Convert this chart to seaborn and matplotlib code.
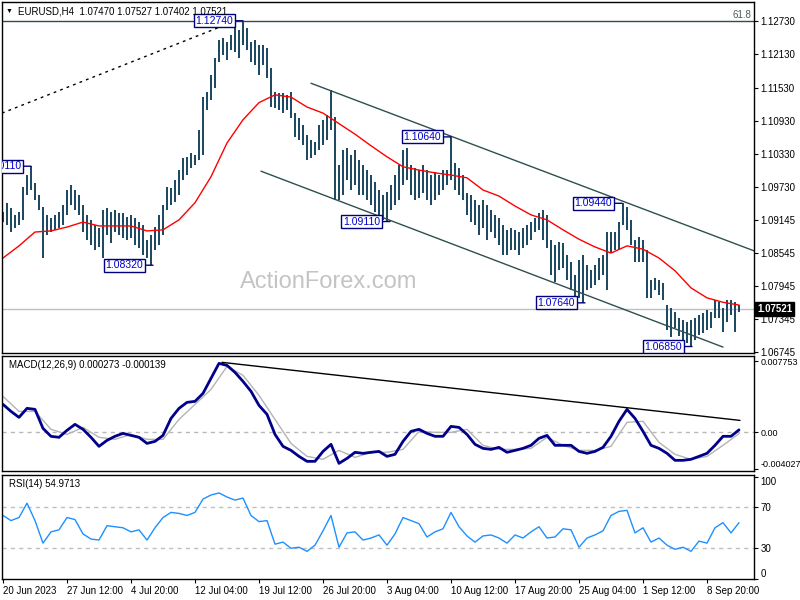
import numpy as np
import matplotlib
matplotlib.use('Agg')
import matplotlib.pyplot as plt
import matplotlib.transforms as mtransforms
import seaborn as sns

# Price bars (one bar per slot)
HIGHS = [
    1.0928, 1.0945, 1.0936, 1.0923, 1.0928, 1.0974, 1.0995, 1.1011, 1.0981, 1.0959,
    1.0937, 1.0923, 1.0917, 1.0923, 1.0928, 1.0941, 1.0968, 1.0977, 1.0968, 1.0959,
    1.0941, 1.0923, 1.0914, 1.0905, 1.0899, 1.0932, 1.0936, 1.0928, 1.0932, 1.0927,
    1.0927, 1.0919, 1.0923, 1.0917, 1.0910, 1.0905, 1.0878, 1.0887, 1.0901, 1.0923,
    1.0941, 1.0974, 1.0972, 1.0986, 1.1004, 1.1026, 1.1028, 1.1035, 1.1032, 1.1077,
    1.1136, 1.1145, 1.1176, 1.1207, 1.1240, 1.1243, 1.1236, 1.1249, 1.1261, 1.1258,
    1.1274, 1.1261, 1.1236, 1.1240, 1.1231, 1.1231, 1.1225, 1.1189, 1.1145, 1.1144,
    1.1144, 1.1140, 1.1145, 1.1107, 1.1098, 1.1086, 1.1068, 1.1059, 1.1055, 1.1086,
    1.1095, 1.1104, 1.1149, 1.1100, 1.1013, 1.1041, 1.1044, 1.1032, 1.1041, 1.1022,
    1.1013, 1.1004, 1.0995, 1.0983, 1.0968, 1.0959, 1.0965, 1.0977, 1.0995, 1.1013,
    1.1041, 1.1044, 1.1013, 1.1008, 1.1004, 1.1013, 1.1004, 1.0995, 1.1001, 1.0995,
    1.1004, 1.1004, 1.1064, 1.1017, 1.1008, 1.0995, 1.0963, 1.0959, 1.0950, 1.0941,
    1.0950, 1.0941, 1.0932, 1.0923, 1.0917, 1.0905, 1.0896, 1.0899, 1.0896, 1.0892,
    1.0899, 1.0905, 1.0910, 1.0917, 1.0927, 1.0932, 1.0923, 1.0878, 1.0869, 1.0874,
    1.0872, 1.0851, 1.0838, 1.0814, 1.0841, 1.0851, 1.0832, 1.0823, 1.0832, 1.0845,
    1.0851, 1.0892, 1.0892, 1.0892, 1.0910, 1.0944, 1.0937, 1.0914, 1.0878, 1.0883,
    1.0878, 1.0860, 1.0805, 1.0809, 1.0805, 1.0800, 1.0760, 1.0755, 1.0747, 1.0736,
    1.0733, 1.0729, 1.0733, 1.0736, 1.0742, 1.0745, 1.0751, 1.0747, 1.0769, 1.0765,
    1.0755, 1.0769, 1.0769, 1.0765, 1.0760,
]
LOWS = [
    1.0910, 1.0905, 1.0892, 1.0899, 1.0905, 1.0914, 1.0959, 1.0968, 1.0950, 1.0932,
    1.0845, 1.0887, 1.0892, 1.0896, 1.0899, 1.0905, 1.0923, 1.0941, 1.0932, 1.0923,
    1.0892, 1.0878, 1.0869, 1.0860, 1.0865, 1.0845, 1.0887, 1.0872, 1.0892, 1.0887,
    1.0881, 1.0878, 1.0881, 1.0869, 1.0863, 1.0851, 1.0845, 1.0832, 1.0860, 1.0869,
    1.0887, 1.0932, 1.0941, 1.0946, 1.0959, 1.0986, 1.0995, 1.1008, 1.1013, 1.1022,
    1.1032, 1.1113, 1.1131, 1.1153, 1.1200, 1.1212, 1.1203, 1.1222, 1.1218, 1.1207,
    1.1231, 1.1222, 1.1200, 1.1194, 1.1176, 1.1194, 1.1171, 1.1118, 1.1117, 1.1113,
    1.1107, 1.1113, 1.1098, 1.1064, 1.1059, 1.1050, 1.1022, 1.1026, 1.1032, 1.1041,
    1.1050, 1.1059, 1.1077, 1.0950, 1.0950, 1.0959, 1.0986, 1.0968, 1.0977, 1.0959,
    1.0959, 1.0950, 1.0941, 1.0928, 1.0917, 1.0914, 1.0911, 1.0932, 1.0941, 1.0950,
    1.0977, 1.0986, 1.0959, 1.0950, 1.0954, 1.0963, 1.0950, 1.0941, 1.0950, 1.0959,
    1.0968, 1.0977, 1.0986, 1.0968, 1.0959, 1.0950, 1.0923, 1.0910, 1.0905, 1.0887,
    1.0899, 1.0878, 1.0892, 1.0881, 1.0869, 1.0851, 1.0851, 1.0860, 1.0860, 1.0851,
    1.0863, 1.0869, 1.0878, 1.0892, 1.0896, 1.0878, 1.0863, 1.0814, 1.0802, 1.0823,
    1.0827, 1.0805, 1.0787, 1.0769, 1.0773, 1.0764, 1.0787, 1.0791, 1.0796, 1.0805,
    1.0814, 1.0787, 1.0854, 1.0860, 1.0860, 1.0905, 1.0896, 1.0869, 1.0838, 1.0838,
    1.0838, 1.0773, 1.0773, 1.0787, 1.0778, 1.0769, 1.0715, 1.0702, 1.0718, 1.0704,
    1.0697, 1.0691, 1.0685, 1.0697, 1.0706, 1.0709, 1.0715, 1.0718, 1.0736, 1.0736,
    1.0711, 1.0729, 1.0742, 1.0711, 1.0747,
]
LAST_PRICE = 1.07521

# moving average, read every 4th bar
MA = [
    1.0845, 1.0867, 1.0892, 1.0894, 1.0901, 1.0910, 1.0903, 1.0903, 1.0903, 1.0894,
    1.0896, 1.0914, 1.0945, 1.0992, 1.1053, 1.1095, 1.1126, 1.1140, 1.1136, 1.1118,
    1.1107, 1.1088, 1.1069, 1.1048, 1.1028, 1.1010, 1.1004, 1.0999, 1.0995, 1.0990,
    1.0968, 1.0957, 1.0939, 1.0923, 1.0914, 1.0896, 1.0879, 1.0865, 1.0854, 1.0867,
    1.0861, 1.0845, 1.0822, 1.0791, 1.0773, 1.0765, 1.0760,
]

# MACD main line, read every 2nd bar
MACD = [
    0.00304, 0.00228, 0.00163, 0.00261, 0.00250, 0.00043, -0.00043, -0.00054, 0.00022, 0.00087,
    0.00033, -0.00054, -0.00152, -0.00087, -0.00043, -0.00011, -0.00033, -0.00054, -0.00120, -0.00098,
    -0.00033, 0.00152, 0.00261, 0.00326, 0.00337, 0.00424, 0.00587, 0.00750, 0.00728, 0.00652,
    0.00554, 0.00446, 0.00293, 0.00196, -0.00022, -0.00152, -0.00196, -0.00261, -0.00315, -0.00315,
    -0.00207, -0.00130, -0.00337, -0.00283, -0.00217, -0.00228, -0.00217, -0.00207, -0.00261, -0.00239,
    -0.00098, 0.00011, 0.00033, -0.00011, -0.00043, -0.00043, 0.00065, 0.00054, -0.00022, -0.00130,
    -0.00174, -0.00185, -0.00163, -0.00217, -0.00196, -0.00174, -0.00141, -0.00065, -0.00033, -0.00141,
    -0.00141, -0.00141, -0.00207, -0.00228, -0.00207, -0.00163, -0.00043, 0.00120, 0.00250, 0.00152,
    0.00011, -0.00141, -0.00174, -0.00228, -0.00304, -0.00304, -0.00293, -0.00261, -0.00228, -0.00141,
    -0.00043, -0.00043, 0.000273,
]
# signal line, read every 4th bar
SIGNAL = [
    0.00391, 0.00228, 0.00228, 0.00033, -0.00022, 0.00054, -0.00054, -0.00076, -0.00022, -0.00076,
    -0.00076, 0.00141, 0.00304, 0.00467, 0.00717, 0.00620, 0.00402, 0.00141, -0.00120, -0.00261,
    -0.00293, -0.00196, -0.00272, -0.00217, -0.00217, -0.00185, 0.00011, 0.00000, 0.00000, 0.00033,
    -0.00141, -0.00185, -0.00185, -0.00174, -0.00054, -0.00141, -0.00196, -0.00196, -0.00152, 0.00109,
    0.00120, -0.00109, -0.00239, -0.00293, -0.00261, -0.00141, -0.000139,
]

# RSI(14), read every 2nd bar
RSI = [
    62, 57, 60, 74, 57, 35, 46, 48, 60, 58,
    44, 39, 38, 52, 51, 50, 46, 48, 38, 50,
    60, 65, 64, 62, 65, 78, 82, 84, 80, 77,
    79, 62, 56, 57, 34, 36, 30, 31, 27, 33,
    47, 62, 31, 45, 46, 38, 40, 43, 33, 44,
    60, 57, 54, 41, 46, 49, 65, 51, 42, 36,
    42, 43, 40, 35, 43, 40, 46, 51, 40, 41,
    49, 48, 31, 40, 43, 47, 62, 66, 67, 45,
    50, 36, 40, 33, 29, 31, 27, 37, 35, 50,
    55, 45, 54.97,
]

# swing labels: bar index, price
SWING_IDX = [7, 37.5, 60, 96.75, 112, 145.5, 154.75, 172.25]
SWING_PRICE = [1.1011, 1.0832, 1.1274, 1.0911, 1.1064, 1.0764, 1.0944, 1.0685]
SWING_TEXT = ['1.10110', '1.08320', '1.12740', '1.09110', '1.10640', '1.07640', '1.09440', '1.06850']

# drawn lines (bar index / value endpoints)
FIB_LINE_X, FIB_LINE_Y = [-0.25, 57.5], [1.1107, 1.1272]
UPPER_CH_X, UPPER_CH_Y = [77, 187.75], [1.1161, 1.0858]
LOWER_CH_X, LOWER_CH_Y = [64.5, 180], [1.1002, 1.0684]
FIB_LEVEL = 1.1274
MACD_TL_X, MACD_TL_Y = [54.75, 184.25], [0.00761, 0.00130]

PRICE_TICKS = [1.06745, 1.07345, 1.07945, 1.08545, 1.09145, 1.09730,
               1.10330, 1.10930, 1.11530, 1.12130, 1.12730]
DATE_IDX = [0, 16, 32, 48, 64, 80, 96, 112, 128, 144, 160, 176]
DATE_LABELS = ['20 Jun 2023', '27 Jun 12:00', '4 Jul 20:00', '12 Jul 04:00',
               '19 Jul 12:00', '26 Jul 20:00', '3 Aug 04:00', '10 Aug 12:00',
               '17 Aug 20:00', '25 Aug 04:00', '1 Sep 12:00', '8 Sep 20:00']

BAR_COLOR = '#1f4a63'
FS = 7

sns.set_theme(style='white')
plt.rcParams['font.family'] = ['Liberation Sans', 'DejaVu Sans']
plt.rcParams['font.size'] = FS

fig = plt.figure(figsize=(8, 6), dpi=100)
fig.patch.set_facecolor('white')
ax_p = fig.add_axes([0.0025, 0.41167, 0.94, 0.585])
ax_m = fig.add_axes([0.0025, 0.215, 0.94, 0.19167], sharex=ax_p)
ax_r = fig.add_axes([0.0025, 0.035, 0.94, 0.17333], sharex=ax_p)

for ax in (ax_p, ax_m, ax_r):
    ax.set_facecolor('white')
    for sp in ax.spines.values():
        sp.set_color('black')
        sp.set_linewidth(1)
    ax.yaxis.tick_right()
    ax.tick_params(axis='y', which='both', right=True, left=False, length=3,
                   width=0.8, direction='out', labelsize=FS, colors='black', pad=1.5)
    ax.tick_params(axis='x', bottom=False, labelbottom=False)
    ax.grid(False)

# ---- price panel ----
bar_x = np.arange(len(HIGHS))
ax_p.axhline(LAST_PRICE, color='#c0c0c0', lw=1, zorder=0)
ax_p.axhline(FIB_LEVEL, color='#2f4f4f', lw=1)
ax_p.vlines(bar_x, LOWS, HIGHS, color=BAR_COLOR, lw=1.3, antialiased=False)
sns.lineplot(x=np.arange(0, len(HIGHS), 4), y=MA, ax=ax_p, color='red', lw=1, legend=False)
ax_p.plot(FIB_LINE_X, FIB_LINE_Y, color='black', lw=1, ls=(0, (2, 3)))
ax_p.plot(UPPER_CH_X, UPPER_CH_Y, color='#2f4f4f', lw=1)
ax_p.plot(LOWER_CH_X, LOWER_CH_Y, color='#2f4f4f', lw=1)

for xi, yi, t in zip(SWING_IDX, SWING_PRICE, SWING_TEXT):
    ax_p.annotate(t, xy=(xi, yi), xytext=(-10, 0), textcoords='offset pixels',
                  ha='right', va='center', fontsize=7.5, color='#0000cc', clip_on=True,
                  bbox=dict(boxstyle='square,pad=0.15', fc='white', ec='#000080', lw=1),
                  arrowprops=dict(arrowstyle='-', color='#000080', lw=1,
                                  shrinkA=0, shrinkB=0))

blend_p = mtransforms.blended_transform_factory(ax_p.transAxes, ax_p.transData)
ax_p.text(0.997, FIB_LEVEL + 0.0002, '61.8', transform=blend_p, ha='right', va='bottom',
          fontsize=FS, color='#4a5a5a')
ax_p.text(1.004, LAST_PRICE, '1.07521', transform=blend_p, ha='left', va='center',
          fontsize=FS, color='white', fontweight='bold',
          bbox=dict(boxstyle='square,pad=0.2', fc='black', ec='black'))
ax_p.text(0.435, 0.202, 'ActionForex.com', transform=ax_p.transAxes, ha='center',
          va='center', fontsize=17, color='#c4c4c4')

ax_p.set_ylim(1.06733, 1.13079)
ax_p.set_yticks(PRICE_TICKS)
ax_p.set_yticklabels([f'{v:.5f}' for v in PRICE_TICKS])

fig.text(6 / 800, 1 - 11 / 600, '\u25bc', fontsize=5, va='center', color='black')
fig.text(18 / 800, 1 - 11 / 600, 'EURUSD,H4  1.07470 1.07527 1.07402 1.07521',
         fontsize=FS, va='center', color='black')

# ---- MACD panel ----
ax_m.axhline(0, color='#b8b8b8', lw=1, ls=(0, (3, 3)))
sns.lineplot(x=np.arange(0, len(HIGHS), 4), y=SIGNAL, ax=ax_m, color='#b4b4b4', lw=1, legend=False)
sns.lineplot(x=np.arange(0, len(HIGHS), 2), y=MACD, ax=ax_m, color='#00008b', lw=2, legend=False)
ax_m.plot(MACD_TL_X, MACD_TL_Y, color='black', lw=1)
ax_m.set_ylim(-0.0042, 0.0083)
ax_m.set_yticks([-0.004027, 0.0, 0.007753])
ax_m.set_yticklabels(['-0.004027', '0.00', '0.007753'])
ax_m.tick_params(axis='y', labelsize=6.5)
ax_m.text(7 / 752, 0.92, 'MACD(12,26,9) 0.000273 -0.000139', transform=ax_m.transAxes,
          fontsize=FS, va='center', ha='left', color='black')
for lab in ax_m.get_yticklabels():
    if lab.get_text() == '-0.004027':
        lab.set_va('bottom')

# ---- RSI panel ----
for lvl in (70, 30):
    ax_r.axhline(lvl, color='#c0c0c0', lw=1, ls=(0, (3, 3)))
sns.lineplot(x=np.arange(0, len(HIGHS), 2), y=RSI, ax=ax_r, color='#1e90ff', lw=1, legend=False)
ax_r.set_ylim(0, 101.5)
ax_r.set_yticks([0, 30, 70, 100])
ax_r.set_yticklabels(['0', '30', '70', '100'])
ax_r.text(7 / 752, 0.915, 'RSI(14) 54.9713', transform=ax_r.transAxes,
          fontsize=FS, va='center', ha='left', color='black')

for lab in ax_r.get_yticklabels():
    if lab.get_text() == '100':
        lab.set_va('top')
    elif lab.get_text() == '0':
        lab.set_va('bottom')

ax_r.set_xticks(DATE_IDX)
ax_r.set_xticklabels(DATE_LABELS, ha='left')
ax_r.tick_params(axis='x', bottom=True, labelbottom=True, length=3, width=0.8,
                 direction='out', labelsize=FS, colors='black', pad=2)
ax_r.set_xlim(-0.25, 187.75)

for ax in (ax_p, ax_m, ax_r):
    ax.set_xlabel('')
    ax.set_ylabel('')

fig.savefig('out.png', dpi=100, facecolor='white')
